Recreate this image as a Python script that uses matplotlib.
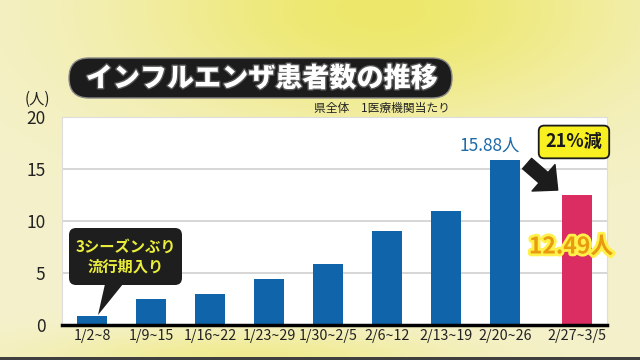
import numpy as np
import matplotlib
matplotlib.use("Agg")
import matplotlib.pyplot as plt
import matplotlib.patheffects as pe
from matplotlib.patches import FancyBboxPatch, Polygon

plt.rcParams['font.family'] = ['Noto Sans CJK JP', 'DejaVu Sans']

# データ
weeks = ["1/2~8", "1/9~15", "1/16~22", "1/23~29", "1/30~2/5",
         "2/6~12", "2/13~19", "2/20~26", "2/27~3/5"]
patients = [0.87, 2.5, 2.95, 4.4, 5.84, 9.07, 10.93, 15.88, 12.49]
yticks = [0, 5, 10, 15, 20]

title = "インフルエンザ患者数の推移"
subtitle = "県全体　1医療機関当たり"
callout = "3シーズンぶり\n流行期入り"
change_label = "21%減"

BLUE = "#0f64aa"
PINK = "#dc2d62"

fig = plt.figure(figsize=(6.4, 3.6), dpi=100)

# 背景グラデーション
bg = fig.add_axes([0, 0, 1, 1])
h, w = 360, 640
yy, xx = np.mgrid[0:h, 0:w]
base = np.array([0.96, 0.945, 0.80])
glow = np.array([0.93, 0.91, 0.42])
d = np.exp(-(((xx - 380) / 260.0) ** 2 + ((yy - 10) / 120.0) ** 2))
d2 = np.exp(-(((xx - 250) / 200.0) ** 2 + ((yy - 355) / 25.0) ** 2)) * 0.6
k = np.clip(d + d2, 0, 1)[..., None]
img = base * (1 - k) + glow * k
img[-3:, :, :] = 0.25
bg.imshow(img, aspect='auto', extent=[0, w, h, 0])
bg.set_axis_off()

# タイトル
tr = fig.dpi_scale_trans
fig.patches.append(FancyBboxPatch((0.69, 2.62), 3.83, 0.40,
                                  boxstyle="round,pad=0,rounding_size=0.2",
                                  transform=tr, facecolor="#1c1c1c",
                                  edgecolor="#888888", linewidth=1.0))
fig.text(2.62, 2.815, title, transform=tr, ha='center', va='center',
         color='white', fontsize=19.5, fontweight='black',
         path_effects=[pe.withStroke(linewidth=2, foreground='#555555')])
fig.text(4.50, 2.52, subtitle, transform=tr, ha='right', va='center',
         color='#222222', fontsize=8.5)
fig.text(0.37, 2.61, "(人)", transform=tr, ha='center', va='center',
         color='#222222', fontsize=11)

# グラフ本体
ax = fig.add_axes([62 / 640, 35 / 360, 545 / 640, 208 / 360])
ax.set_facecolor('white')
pos = np.arange(len(weeks), dtype=float)
pos[-1] += 0.22
colors = [BLUE] * (len(weeks) - 1) + [PINK]
ax.bar(pos, patients, width=0.51, color=colors, zorder=3)

ax.set_xlim(-0.51, 8.73)
ax.set_ylim(0, 20)
ax.set_yticks(yticks)
ax.set_yticklabels([str(t) for t in yticks], fontsize=12.5, color='#222222')
ax.set_xticks(pos)
ax.set_xticklabels(weeks, fontsize=10.3, color='#222222')
ax.tick_params(length=0, pad=3)
ax.tick_params(axis='y', pad=12)
ax.grid(axis='y', color='#d0d0d0', linewidth=1.2, zorder=0)
for s in ['top', 'right', 'left']:
    ax.spines[s].set_color('#dddddd')
ax.spines['bottom'].set_color('black')
ax.spines['bottom'].set_linewidth(2.5)
ax.spines['bottom'].set_zorder(4)

# 吹き出し
fig.patches.append(FancyBboxPatch((0.69, 0.75), 1.13, 0.57,
                                  boxstyle="round,pad=0,rounding_size=0.07",
                                  transform=tr, facecolor="#1e1e1e",
                                  edgecolor="none"))
fig.patches.append(Polygon([(1.05, 0.76), (1.23, 0.76), (0.98, 0.45)],
                           closed=True, transform=tr, facecolor="#1e1e1e",
                           edgecolor="none"))
fig.text(1.255, 1.035, callout, transform=tr, ha='center', va='center',
         color='#eaee3a', fontsize=11, fontweight='bold', linespacing=1.25)

# 数値ラベル
ax.text(pos[7] + 0.26, patients[7] + 0.45, f"{patients[7]}人", ha='right',
        va='bottom', color='#1d6aa8', fontsize=12.5, zorder=5)
ax.text(pos[8] - 0.1, 7.5, f"{patients[8]}人", ha='center', va='center',
        color='#e89a10', fontsize=16.5, fontweight='bold', zorder=5,
        path_effects=[pe.withStroke(linewidth=4, foreground='#fff04a')])

# 矢印と減少率
ax.annotate("", xy=(pos[8] - 0.29, 12.8), xytext=(pos[7] + 0.34, 15.7),
            arrowprops=dict(arrowstyle="simple,head_length=0.75,head_width=1.4,tail_width=0.55",
                            color='#1c1c1c', mutation_scale=18),
            zorder=5)
ax.text(pos[8] - 0.05, 17.6, change_label, ha='center', va='center',
        fontsize=13, fontweight='bold', color='#1a1a1a', zorder=6, clip_on=False,
        bbox=dict(boxstyle="round,pad=0.38,rounding_size=0.3",
                  facecolor='#f8f020', edgecolor='#1a1a1a', linewidth=1.3))

fig.savefig("out.png", dpi=100)
